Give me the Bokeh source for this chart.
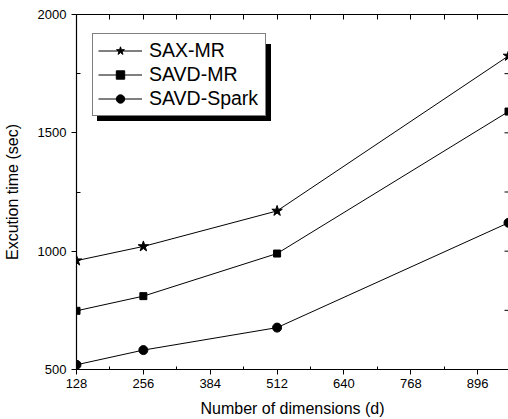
import math
from bokeh.plotting import figure
from bokeh.models import Range1d, FixedTicker, LinearAxis, Legend, LegendItem
from bokeh.embed import file_html
from bokeh.resources import INLINE

# ---- data ----
dims = [128, 256, 512, 955]
sax_mr = [960, 1020, 1170, 1825]
savd_mr = [748, 810, 990, 1590]
savd_spark = [520, 582, 677, 1120]

x_ticks = [128, 256, 384, 512, 640, 768, 896]
x_minor = [192, 320, 448, 576, 704, 832, 960]
y_ticks = [500, 1000, 1500, 2000]
y_minor = [750, 1250, 1750]
x_min, x_max = 128, 955
y_min, y_max = 500, 2000
series_names = ["SAX-MR", "SAVD-MR", "SAVD-Spark"]

FONT = "Liberation Sans"

p = figure(width=508, height=419, output_backend="svg", toolbar_location=None,
           x_range=Range1d(x_min, x_max), y_range=Range1d(y_min, y_max),
           min_border_left=0, min_border_right=0, min_border_top=14,
           min_border_bottom=0, x_axis_location=None, y_axis_location=None)
p.grid.visible = False
p.outline_line_color = None
p.background_fill_color = "white"
p.border_fill_color = "white"

def style(ax, labels=True):
    ax.axis_line_color = "black"
    ax.axis_line_width = 1.2
    ax.major_tick_line_color = "black"
    ax.minor_tick_line_color = "black"
    ax.major_label_text_font = FONT
    ax.major_label_text_font_size = "13px" if labels else "0px"
    ax.major_label_text_color = "black"
    ax.axis_label_text_font = FONT
    ax.axis_label_text_font_style = "normal"
    ax.axis_label_text_color = "black"

xb = LinearAxis(ticker=FixedTicker(ticks=x_ticks, minor_ticks=x_minor),
                axis_label="Number of dimensions (d)")
style(xb)
xb.major_tick_out = 5; xb.major_tick_in = 0
xb.minor_tick_out = 0; xb.minor_tick_in = 3
xb.major_label_standoff = 4
xb.axis_label_standoff = 9
xb.axis_label_text_font_size = "16px"
p.add_layout(xb, "below")

xt = LinearAxis(ticker=FixedTicker(ticks=x_ticks, minor_ticks=x_minor))
style(xt, labels=False)
xt.major_tick_out = 0; xt.major_tick_in = 5
xt.minor_tick_out = 0; xt.minor_tick_in = 5
xt.major_label_standoff = 0
p.add_layout(xt, "above")

yl = LinearAxis(ticker=FixedTicker(ticks=y_ticks, minor_ticks=y_minor),
                axis_label="Excution time (sec)")
style(yl)
yl.major_tick_out = 5; yl.major_tick_in = 0
yl.minor_tick_out = 0; yl.minor_tick_in = 4
yl.major_label_standoff = 5
yl.axis_label_standoff = 14
yl.axis_label_text_font_size = "16px"
p.add_layout(yl, "left")

# inward ticks along the right edge of the frame
right_ys = sorted(y_ticks + y_minor)
p.ray(x=[x_max] * len(right_ys), y=right_ys, length=4, length_units="screen",
      angle=math.pi, line_color="black", line_width=1)

r1l = p.line(dims, sax_mr, line_color="black", line_width=1)
r1m = p.scatter(dims, sax_mr, marker="star", size=11, fill_color="black", line_color="black")
r2l = p.line(dims, savd_mr, line_color="black", line_width=1)
r2m = p.scatter(dims, savd_mr, marker="square", size=7, fill_color="black", line_color="black")
r3l = p.line(dims, savd_spark, line_color="black", line_width=1)
r3m = p.scatter(dims, savd_spark, marker="circle", size=9, fill_color="black", line_color="black")

renderer_sets = [[r1l, r1m], [r2l, r2m], [r3l, r3m]]

legend_style = dict(glyph_width=44, glyph_height=21, label_standoff=7, spacing=1,
                    padding=5, margin=0, label_text_font=FONT,
                    label_height=21, label_width=111, border_line_width=1)

# drop shadow: a same-sized legend box filled black, offset down-right
shadow = Legend(items=[LegendItem(label=n, renderers=r) for n, r in zip(series_names, renderer_sets)],
                location=(21, 248), label_text_color="black",
                label_text_font_size="0px",
                border_line_color="black", background_fill_color="black",
                background_fill_alpha=1, **legend_style)
p.add_layout(shadow, "center")

legend = Legend(items=[LegendItem(label=n, renderers=r) for n, r in zip(series_names, renderer_sets)],
                location=(16, 253), label_text_color="black",
                label_text_font_size="19.5px",
                border_line_color="black", background_fill_color="white",
                background_fill_alpha=1, **legend_style)
p.add_layout(legend, "center")

open("out.html", "w").write(file_html(p, INLINE))
